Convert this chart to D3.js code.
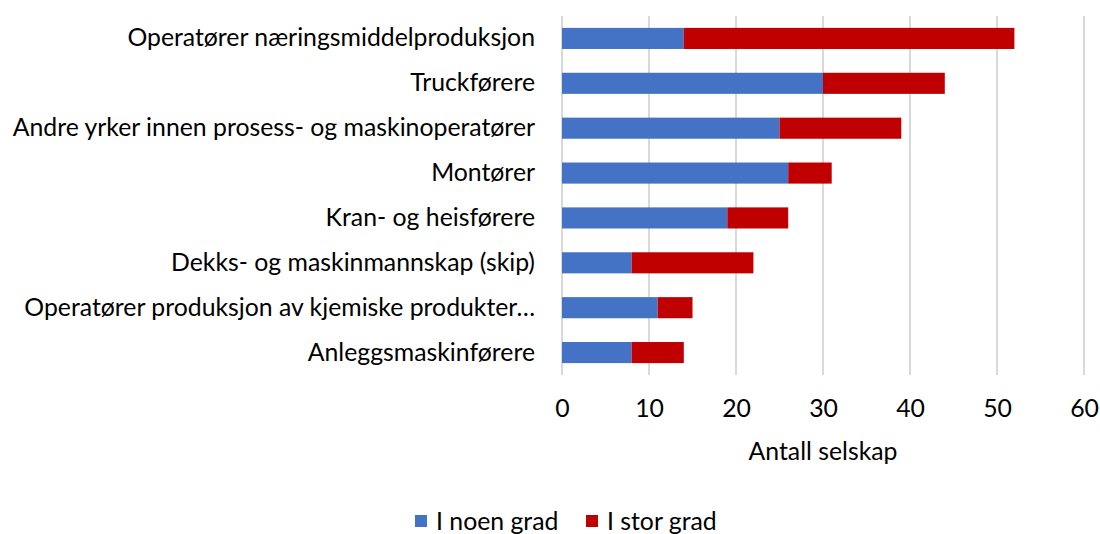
<!DOCTYPE html>
<html>
<head>
<meta charset="utf-8">
<script src="https://cdn.jsdelivr.net/npm/d3@7"></script>
<style>
  body { margin: 0; background: #fff; }
  svg { font-family: Lato, 'Open Sans', sans-serif; }
  .grid line { stroke: #d9d9d9; stroke-width: 2; }
</style>
</head>
<body>
<svg width="1100" height="534"></svg>
<script>
// categories, top to bottom
var categories = [
  'Operatører næringsmiddelproduksjon',
  'Truckførere',
  'Andre yrker innen prosess- og maskinoperatører',
  'Montører',
  'Kran- og heisførere',
  'Dekks- og maskinmannskap (skip)',
  'Operatører produksjon av kjemiske produkter…',
  'Anleggsmaskinførere'
];
var noenGrad = [14, 30, 25, 26, 19, 8, 11, 8];
var storGrad = [38, 14, 14, 5, 7, 14, 4, 6];
var seriesNames = ['I noen grad', 'I stor grad'];
var colors = ['#4472C4', '#C00000'];
var xTicks = [0, 10, 20, 30, 40, 50, 60];
var xTitle = 'Antall selskap';

var fontSize = 24.8;

var svg = d3.select('svg');

var x = d3.scaleLinear().domain([0, 60]).range([562, 1084]);
var y = d3.scaleBand().domain(categories).range([16, 375]).paddingInner(0.53).paddingOuter(0.265);

// gridlines
svg.append('g')
  .attr('class', 'grid')
  .selectAll('line')
  .data(xTicks)
  .enter()
  .append('line')
  .attr('x1', function (d) { return x(d); })
  .attr('x2', function (d) { return x(d); })
  .attr('y1', 16)
  .attr('y2', 375);

var rows = categories.map(function (c, i) {
  return { cat: c, a: noenGrad[i], b: storGrad[i] };
});

// blue segment
svg.append('g')
  .selectAll('rect')
  .data(rows)
  .enter()
  .append('rect')
  .attr('x', x(0))
  .attr('y', function (d) { return y(d.cat); })
  .attr('width', function (d) { return x(d.a) - x(0); })
  .attr('height', y.bandwidth())
  .attr('fill', colors[0]);

// red segment
svg.append('g')
  .selectAll('rect')
  .data(rows)
  .enter()
  .append('rect')
  .attr('x', function (d) { return x(d.a); })
  .attr('y', function (d) { return y(d.cat); })
  .attr('width', function (d) { return x(d.a + d.b) - x(d.a); })
  .attr('height', y.bandwidth())
  .attr('fill', colors[1]);

// category labels
var yAxis = svg.append('g')
  .attr('transform', 'translate(' + (x(0) - 27) + ',0)')
  .call(d3.axisLeft(y).tickSize(0).tickPadding(0));
yAxis.select('.domain').remove();
yAxis.selectAll('text')
  .attr('font-size', fontSize)
  .attr('font-family', 'Lato, sans-serif')
  .attr('fill', '#000');

// x axis labels
var xAxis = svg.append('g')
  .attr('transform', 'translate(0,399)')
  .call(d3.axisBottom(x).tickValues(xTicks).tickSize(0).tickPadding(0));
xAxis.select('.domain').remove();
xAxis.selectAll('text')
  .attr('font-size', fontSize)
  .attr('font-family', 'Lato, sans-serif')
  .attr('fill', '#000');

svg.append('text')
  .attr('x', (x(0) + x(60)) / 2)
  .attr('y', 460)
  .attr('text-anchor', 'middle')
  .attr('font-size', fontSize)
  .text(xTitle);

// legend
var legendX = [415, 586];
var legend = svg.append('g')
  .selectAll('g')
  .data(seriesNames)
  .enter()
  .append('g')
  .attr('transform', function (d, i) { return 'translate(' + legendX[i] + ',515)'; });
legend.append('rect')
  .attr('width', 12)
  .attr('height', 12)
  .attr('fill', function (d, i) { return colors[i]; });
legend.append('text')
  .attr('x', 21)
  .attr('y', 15)
  .attr('font-size', fontSize)
  .text(function (d) { return d; });
</script>
</body>
</html>
